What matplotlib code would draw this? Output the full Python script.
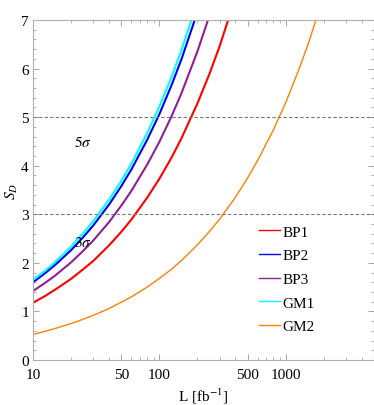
import numpy as np
import matplotlib
matplotlib.use("Agg")
import matplotlib.pyplot as plt
from matplotlib.ticker import FixedLocator, NullFormatter, MultipleLocator

plt.rcParams['font.family'] = ['Liberation Serif', 'DejaVu Serif']
plt.rcParams['mathtext.fontset'] = 'stix'

# Luminosity grid (fb^-1) at which significances were read
L = [10, 12.5, 15, 20, 25, 30, 40, 50, 60, 80, 100, 125, 150, 200, 250, 300,
     400, 500, 600, 800, 1000, 1250, 1500, 2000]

# Significance S_D
BP1 = [1.18, 1.32, 1.45, 1.67, 1.87, 2.04, 2.36, 2.64, 2.89, 3.34, 3.73, 4.17,
       4.57, 5.28, 5.90, 6.46, 7.46]
BP2 = [1.60, 1.79, 1.96, 2.26, 2.53, 2.77, 3.20, 3.58, 3.92, 4.53, 5.06, 5.66,
       6.20, 7.16]
BP3 = [1.42, 1.59, 1.74, 2.01, 2.25, 2.46, 2.84, 3.18, 3.48, 4.02, 4.49, 5.02,
       5.50, 6.35, 7.10]
GM1 = [1.65, 1.84, 2.02, 2.33, 2.61, 2.86, 3.30, 3.69, 4.04, 4.67, 5.22, 5.83,
       6.39, 7.38]
GM2 = [0.53, 0.59, 0.65, 0.75, 0.84, 0.92, 1.06, 1.19, 1.30, 1.50, 1.68, 1.87,
       2.05, 2.37, 2.65, 2.90, 3.35, 3.75, 4.11, 4.74, 5.30, 5.93, 6.49, 7.50]

series = [("BP1", BP1, "#ff0000", 1.5),
          ("BP2", BP2, "#0000ff", 1.5),
          ("BP3", BP3, "#8e1f96", 1.5),
          ("GM1", GM1, "#00ffff", 1.5),
          ("GM2", GM2, "#ff8000", 1.0)]

x_ticks = [10, 50, 100, 500, 1000]
x_ticklabels = ["10", "50", "100", "500", "1000"]
sig_levels = [3, 5]

fig = plt.figure(figsize=(3.74, 4.06), dpi=100)
ax = fig.add_axes([0.0882, 0.1108, 0.9118, 0.8374])

for name, vals, col, lw in series:
    ax.plot(L[:len(vals)], vals, color=col, lw=lw, label=name, clip_on=True)

for s in sig_levels:
    ax.axhline(s, color="#777777", lw=0.8, ls=(0, (3, 2)))

ax.text(25, 4.5, r"$5\sigma$", fontsize=11, ha="center", va="center")
ax.text(25, 2.43, r"$3\sigma$", fontsize=11, ha="center", va="center")

ax.set_xscale("log")
ax.set_xlim(10, 5000)
ax.set_ylim(0, 7)

ax.xaxis.set_major_locator(FixedLocator(x_ticks))
ax.set_xticklabels(x_ticklabels)
minor = [v * d for d in (10, 100, 1000) for v in range(2, 10) if v * d <= 5000]
ax.xaxis.set_minor_locator(FixedLocator(minor))
ax.xaxis.set_minor_formatter(NullFormatter())
ax.yaxis.set_major_locator(MultipleLocator(1))
ax.yaxis.set_minor_locator(MultipleLocator(0.2))

for sp in ax.spines.values():
    sp.set_color("#b0b0b0")
    sp.set_linewidth(0.8)
ax.tick_params(which="both", direction="in", top=True, right=True,
               color="#999999", labelsize=11)
ax.tick_params(axis="x", pad=6)
ax.tick_params(axis="y", pad=3)
ax.tick_params(which="major", length=4, width=0.6)
ax.tick_params(which="minor", length=2.2, width=0.5)

ax.set_xlabel(r"L [fb$^{-1}$]", fontsize=11, labelpad=3)
ax.set_ylabel(r"$S_D$", fontsize=11, labelpad=1)

leg = ax.legend(loc="upper left", bbox_to_anchor=(0.645, 0.415), frameon=False,
                fontsize=11, handlelength=1.4, handletextpad=0.15,
                labelspacing=0.65, borderaxespad=0)
for h in leg.get_lines():
    h.set_linewidth(1.0)

fig.savefig("out.png", dpi=100)
